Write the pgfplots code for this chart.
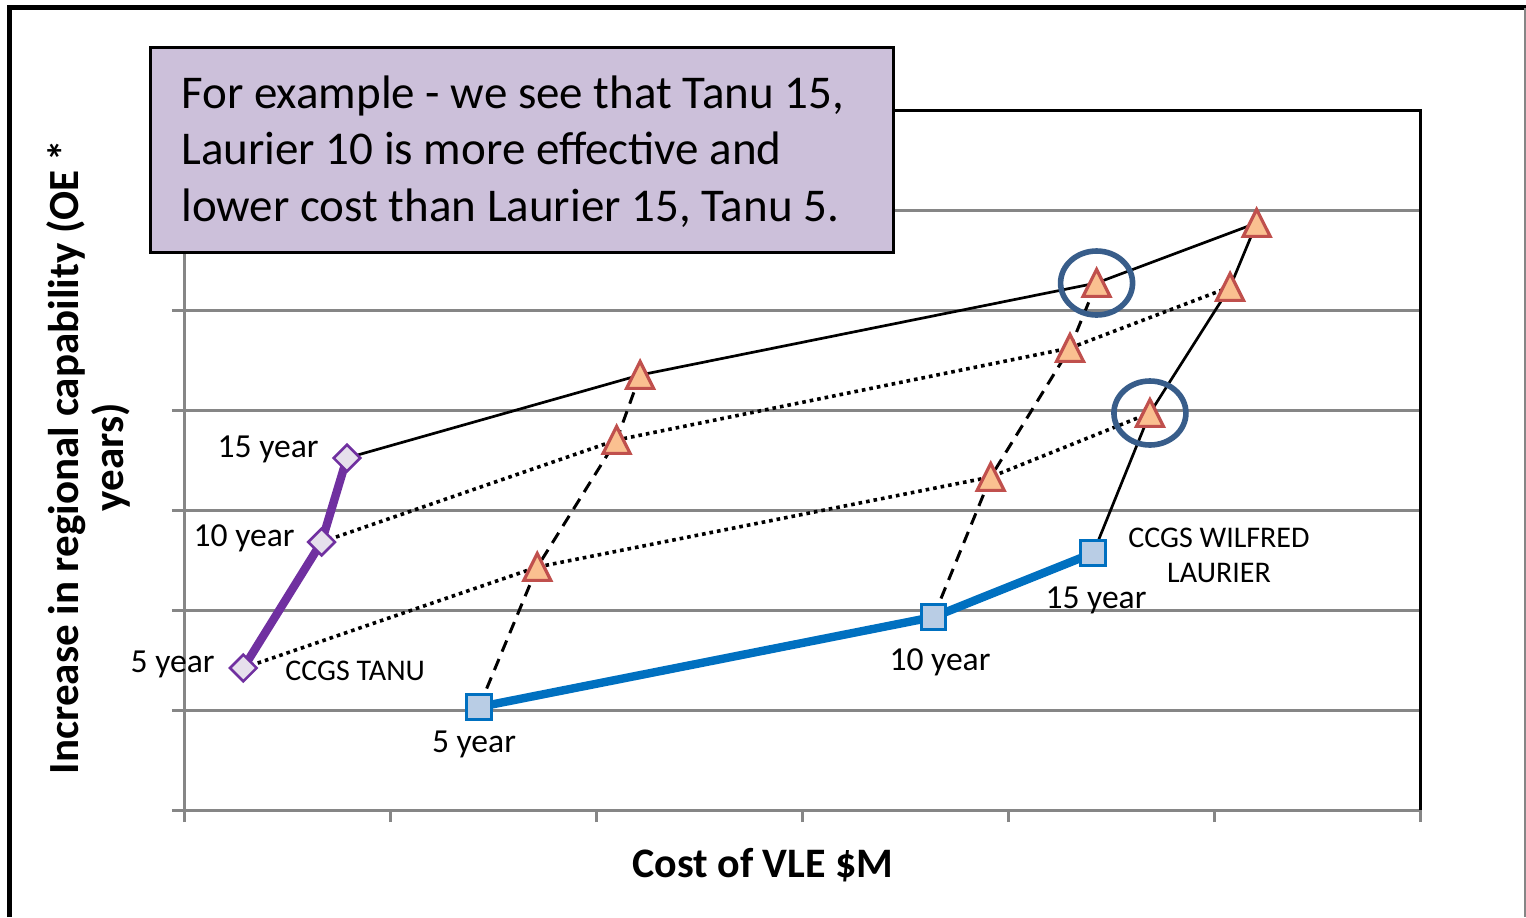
\documentclass[border=0pt]{standalone}
\usepackage{pgfplots}
\pgfplotsset{compat=1.18}
\usepackage{fontspec}
\setmainfont{Carlito}
\definecolor{boxfill}{HTML}{CCC0DA}
\definecolor{tpurple}{HTML}{7030A0}
\definecolor{tfill}{HTML}{E6E0EC}
\definecolor{lblue}{HTML}{0070C0}
\definecolor{lfill}{HTML}{B9CDE5}
\definecolor{trifill}{HTML}{FAC090}
\definecolor{triedge}{HTML}{C0504D}
\definecolor{circ}{HTML}{385D8A}
\definecolor{gridgray}{HTML}{868686}
\begin{document}
\begin{tikzpicture}[x=0.5pt,y=-0.5pt]
\useasboundingbox (0,0) rectangle (1526,917);
\begin{axis}[
  at={(92pt,-405pt)}, anchor=south west,
  scale only axis, width=618pt, height=350pt,
  xmin=0, xmax=6, ymin=0, ymax=7,
  xtick={0,...,6}, ytick={0,...,7},
  xticklabels={}, yticklabels={},
  tick align=outside, major tick length=6pt, tick pos=left,
  tick style={gridgray, line width=1.5pt},
  ymajorgrids, grid style={gridgray, line width=1.5pt},
  axis line style={draw=none},
  clip=false,
]
% combination lines
\addplot[black, line width=1.35pt] coordinates {(0.791,3.52) (2.214,4.35) (4.430,5.27) (5.207,5.87)};
\addplot[black, line width=1.8pt, dash pattern=on 1.8pt off 2pt] coordinates {(0.668,2.68) (2.100,3.70) (4.301,4.62) (5.078,5.23)};
\addplot[black, line width=1.8pt, dash pattern=on 1.8pt off 2pt] coordinates {(0.288,1.42) (1.715,2.43) (3.916,3.33) (4.689,3.97)};
\addplot[black, line width=1.5pt, dash pattern=on 6pt off 4pt] coordinates {(1.432,1.03) (1.715,2.43) (2.100,3.70) (2.214,4.35)};
\addplot[black, line width=1.5pt, dash pattern=on 6pt off 4pt] coordinates {(3.638,1.93) (3.916,3.33) (4.301,4.62) (4.430,5.27)};
\addplot[black, line width=1.35pt] coordinates {(4.414,2.57) (4.689,3.97) (5.078,5.23) (5.207,5.87)};
% Tanu
\addplot[tpurple, line width=4.2pt, mark=square*, mark size=4.7pt,
  mark options={rotate=45, fill=tfill, draw=tpurple, line width=1.3pt}]
  coordinates {(0.288,1.42) (0.668,2.68) (0.791,3.52)};
% Laurier
\addplot[lblue, line width=4.2pt, mark=square*, mark size=6.2pt,
  mark options={fill=lfill, draw=lblue, line width=1.5pt}]
  coordinates {(1.432,1.03) (3.638,1.93) (4.414,2.57)};
% triangles
\addplot[only marks, mark=triangle*, mark size=7.8pt,
  mark options={yshift=-2.2pt, yscale=1.15, fill=trifill, draw=triedge, line width=1.6pt}]
  coordinates {(2.214,4.35) (2.100,3.70) (1.715,2.43) (4.430,5.27) (4.301,4.62) (3.916,3.33) (5.207,5.87) (5.078,5.23) (4.689,3.97)};
\draw[circ, line width=2.8pt] (axis cs:4.430,5.27) ellipse [x radius=18pt, y radius=16pt];
\draw[circ, line width=2.8pt] (axis cs:4.689,3.97) ellipse [x radius=18pt, y radius=16pt];
\draw[gridgray, line width=1.5pt] (rel axis cs:0,1) -- (rel axis cs:0,0) -- (rel axis cs:1,0);
\draw[black, line width=1.5pt] (rel axis cs:0,1) -- (rel axis cs:1,1) -- (rel axis cs:1,0);
\end{axis}
% outer frame
\draw[black, line width=2.5pt] (9,917) -- (9,7.5) -- (1526,7.5);
\draw[gridgray, line width=0.6pt] (1525,8) -- (1525,917);
% text box
\draw[black, line width=1.5pt, fill=boxfill] (150,47) rectangle (893,252);
\begin{scope}[every node/.style={inner sep=0pt, anchor=base west, font=\fontsize{23.5}{28}\selectfont}]
\node at (181,108) {For example - we see that Tanu 15,};
\node at (181,164.5) {Laurier 10 is more effective and};
\node at (181,221) {lower cost than Laurier 15, Tanu 5.};
\end{scope}
% data labels
\begin{scope}[every node/.style={inner sep=0pt, font=\fontsize{16.8}{19}\selectfont}]
\node[anchor=base east] at (319,457) {15 year};
\node[anchor=base east] at (295,546) {10 year};
\node[anchor=base east] at (215,672) {5 year};
\node[anchor=base] at (474,752) {5 year};
\node[anchor=base] at (940,670) {10 year};
\node[anchor=base] at (1096,608) {15 year};
\end{scope}
\begin{scope}[every node/.style={inner sep=0pt, font=\fontsize{15}{18}\selectfont}]
\node[anchor=base west] at (285,680) {CCGS TANU};
\node[anchor=base] at (1219,547) {CCGS WILFRED};
\node[anchor=base] at (1219,582) {LAURIER};
\end{scope}
% axis titles
\node[inner sep=0pt, anchor=base, font=\fontsize{21}{24}\selectfont\bfseries] at (763,877) {Cost of VLE \$M};
\node[inner sep=0pt, anchor=base, rotate=90, font=\fontsize{21.5}{24}\selectfont\bfseries] at (78,457) {Increase in regional capability (OE *};
\node[inner sep=0pt, anchor=base, rotate=90, font=\fontsize{21.5}{24}\selectfont\bfseries] at (123,457) {years)};
\end{tikzpicture}
\end{document}
